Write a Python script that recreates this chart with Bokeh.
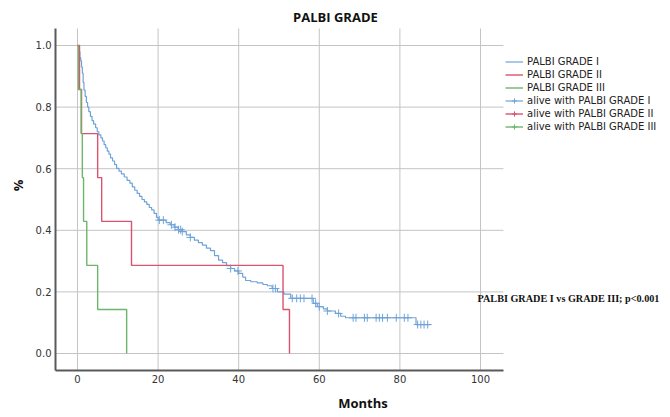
import numpy as np
from bokeh.plotting import figure
from bokeh.models import (Range1d, FixedTicker, PrintfTickFormatter, Legend, LegendItem, Label)
from bokeh.embed import file_html
from bokeh.resources import INLINE

# ---------------- data ----------------
title_text = "PALBI GRADE"
x_label = "Months"
y_label = "%"
note_text = "PALBI GRADE I vs GRADE III; p<0.001"

series_names = ["PALBI GRADE I", "PALBI GRADE II", "PALBI GRADE III"]
censor_names = ["alive with PALBI GRADE I", "alive with PALBI GRADE II", "alive with PALBI GRADE III"]

grade1_time = [0.0, 0.3, 0.6, 0.8, 1.0, 1.2, 1.4, 1.6, 1.9, 2.2, 2.5, 2.8, 3.2, 3.6, 4.0, 4.5,
               4.9, 5.3, 5.8, 6.2, 6.6, 7.0, 7.4, 7.8, 8.2, 8.7, 9.2, 9.7, 10.3, 10.9, 11.6,
               12.3, 13.0, 13.6, 14.2, 14.8, 15.4, 16.0, 16.6, 17.2, 17.8, 18.4, 19.0, 19.6,
               20.0, 22.0, 23.0, 24.0, 25.0, 26.0, 27.0, 28.0, 29.0, 30.0, 31.0, 32.0, 33.0,
               34.0, 35.0, 36.0, 37.0, 38.0, 39.0, 40.0, 41.0, 41.7, 43.0, 44.6, 46.0, 47.1,
               48.3, 49.6, 51.2, 52.9, 58.5, 59.5, 61.0, 62.0, 64.0, 65.3, 66.5, 84.0, 87.6]
grade1_surv = [1.0, 0.98, 0.96, 0.95, 0.93, 0.91, 0.88, 0.855, 0.835, 0.815, 0.80, 0.785, 0.77,
               0.756, 0.745, 0.733, 0.72, 0.71, 0.70, 0.69, 0.678, 0.668, 0.657, 0.647, 0.635,
               0.625, 0.613, 0.601, 0.592, 0.583, 0.573, 0.562, 0.553, 0.541, 0.530, 0.520,
               0.510, 0.500, 0.492, 0.484, 0.474, 0.466, 0.455, 0.442, 0.433, 0.425, 0.418,
               0.410, 0.402, 0.396, 0.385, 0.377, 0.368, 0.360, 0.352, 0.342, 0.334, 0.318,
               0.303, 0.295, 0.285, 0.276, 0.268, 0.260, 0.248, 0.237, 0.233, 0.229, 0.224,
               0.220, 0.211, 0.200, 0.193, 0.179, 0.163, 0.152, 0.145, 0.138, 0.130, 0.121,
               0.116, 0.094, 0.094]
grade1_censor = [20.3, 21.3, 23.3, 24.2, 25.1, 25.6, 26.0, 28.0, 38.0, 39.8, 48.5, 49.1, 53.3,
                 54.4, 55.3, 56.2, 58.2, 59.1, 60.0, 62.0, 64.8, 68.4, 69.1, 71.2, 71.9, 74.1,
                 74.9, 75.7, 76.9, 79.1, 81.1, 82.0, 84.4, 85.2, 86.0, 86.9]

grade2_time = [0.0, 0.5, 1.0, 5.0, 6.0, 13.4, 51.0, 52.6]
grade2_surv = [1.0, 0.857, 0.714, 0.571, 0.429, 0.286, 0.143, 0.0]

grade3_time = [0.0, 0.2, 0.9, 1.2, 1.5, 2.3, 5.0, 12.2]
grade3_surv = [1.0, 0.857, 0.714, 0.571, 0.429, 0.286, 0.143, 0.0]

x_ticks = [0, 20, 40, 60, 80, 100]
y_ticks = [0.0, 0.2, 0.4, 0.6, 0.8, 1.0]

colors = ["#6fa3d8", "#d9536f", "#6db56d"]

# plotting-area extents (data units)
x_min, x_area_end, x_max = -5.46, 105.7, 147.15
y_min, y_area_end, y_max = -0.0552, 1.0552, 1.1461

# ---------------- figure ----------------
p = figure(width=670, height=417, output_backend="svg", toolbar_location=None,
           title=None, x_range=Range1d(x_min, x_max), y_range=Range1d(y_min, y_max),
           min_border=0, min_border_left=55, min_border_right=0, min_border_top=0,
           min_border_bottom=47)
p.outline_line_color = None
p.background_fill_color = "white"
p.grid.visible = False

for ax in (p.xaxis[0], p.yaxis[0]):
    ax.axis_line_color = "#5a5a5a"
    ax.axis_line_width = 2
    ax.major_tick_line_color = None
    ax.minor_tick_line_color = None
    ax.major_tick_out = 0
    ax.major_tick_in = 0
    ax.minor_tick_out = 0
    ax.major_label_text_font = "DejaVu Sans"
    ax.major_label_text_font_size = "10px"
    ax.major_label_text_color = "#333333"
    ax.axis_label_text_font = "Open Sans"
    ax.axis_label_text_font_style = "bold"
    ax.axis_label_text_font_size = "13px"
    ax.axis_label_text_color = "#111111"

p.xaxis.ticker = FixedTicker(ticks=x_ticks)
p.yaxis.ticker = FixedTicker(ticks=y_ticks)
p.yaxis.formatter = PrintfTickFormatter(format="%.1f")
p.xaxis.bounds = (x_min, x_area_end)
p.yaxis.bounds = (y_min, y_area_end)
p.xaxis.axis_label = x_label
p.yaxis.axis_label = y_label
p.xaxis.major_label_standoff = 4
p.yaxis.major_label_standoff = 4
p.xaxis.axis_label_standoff = 8
p.yaxis.axis_label_standoff = 6

# grid lines, limited to the plotting area
p.segment(x0=x_ticks, y0=[y_min] * len(x_ticks), x1=x_ticks, y1=[y_area_end] * len(x_ticks),
          line_color="#c4c4c4", line_width=1)
p.segment(x0=[x_min] * len(y_ticks), y0=y_ticks, x1=[x_area_end] * len(y_ticks), y1=y_ticks,
          line_color="#c4c4c4", line_width=1)

# curves
r1 = p.step(grade1_time, grade1_surv, mode="after", line_color=colors[0], line_width=1.2)
r2 = p.step(grade2_time, grade2_surv, mode="after", line_color=colors[1], line_width=1.4)
r3 = p.step(grade3_time, grade3_surv, mode="after", line_color=colors[2], line_width=1.4)

t_arr = np.array(grade1_time)
s_arr = np.array(grade1_surv)
idx = np.searchsorted(t_arr, np.array(grade1_censor), side="right") - 1
c1 = p.scatter(grade1_censor, s_arr[idx], marker="cross", size=8, line_color=colors[0], line_width=1)
# no censored cases in grades II and III: placeholder (not drawn) so the legend keeps its glyph
c2 = p.scatter([np.nan], [np.nan], marker="cross", size=8, line_color=colors[1], line_width=1)
c3 = p.scatter([np.nan], [np.nan], marker="cross", size=8, line_color=colors[2], line_width=1)

items = [LegendItem(label=series_names[0], renderers=[r1]),
         LegendItem(label=series_names[1], renderers=[r2]),
         LegendItem(label=series_names[2], renderers=[r3]),
         LegendItem(label=censor_names[0], renderers=[r1, c1]),
         LegendItem(label=censor_names[1], renderers=[r2, c2]),
         LegendItem(label=censor_names[2], renderers=[r3, c3])]
legend = Legend(items=items, location=(450, 237), margin=0, padding=0, spacing=0,
                glyph_width=18, glyph_height=13, label_height=13, label_standoff=4,
                label_text_font="DejaVu Sans", label_text_font_size="10px",
                label_text_color="#222222", border_line_color=None,
                background_fill_alpha=0)
p.add_layout(legend, "center")

p.add_layout(Label(x=64.0, y=1.094, text=title_text, text_font="Open Sans",
                   text_font_style="bold", text_font_size="13px", text_align="center",
                   text_baseline="middle", text_color="#111111"))
p.add_layout(Label(x=99.26, y=0.18, text=note_text, text_font="Liberation Serif",
                   text_font_style="bold", text_font_size="10.2px", text_align="left",
                   text_baseline="middle", text_color="#111111"))

open("out.html", "w").write(file_html(p, INLINE))
